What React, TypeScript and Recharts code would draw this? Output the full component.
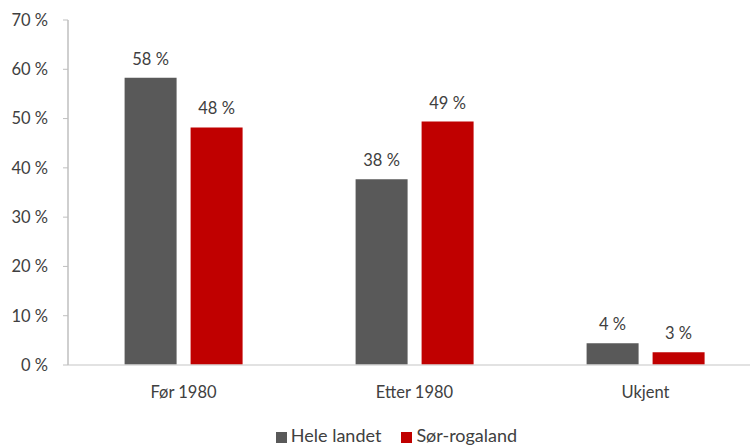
import { Bar, BarChart, XAxis, YAxis, Legend, LabelList } from "recharts"

const categories = ["Før 1980", "Etter 1980", "Ukjent"]
const heleLandet = [58.3, 37.7, 4.4]
const sorRogaland = [48.2, 49.4, 2.6]
const yTicks = [0, 10, 20, 30, 40, 50, 60, 70]

const data = categories.map((name, i) => ({
  name,
  hele: heleLandet[i],
  sor: sorRogaland[i],
}))

const FONT = "Lato, 'Open Sans', sans-serif"
const TEXT = "#404040"

const pct = (v: number) => `${Math.round(v)} %`

export default function App() {
  return (
    <div
      style={{
        position: "fixed",
        left: 0,
        top: 0,
        width: 750,
        height: 446,
        overflow: "hidden",
        background: "#fff",
        fontFamily: FONT,
      }}
    >
      <BarChart
        width={770}
        height={446}
        data={data}
        margin={{ top: 20, right: 9, left: 8, bottom: 23 }}
        barCategoryGap="24.5%"
        barGap={14}
      >
        <XAxis
          dataKey="name"
          tickLine={false}
          axisLine={{ stroke: "#d9d9d9", strokeWidth: 1.5 }}
          tick={{ fill: TEXT, fontSize: 16.5, fontFamily: FONT }}
          tickMargin={15}
          height={36}
        />
        <YAxis
          domain={[0, 70]}
          ticks={yTicks}
          interval={0}
          width={60}
          tickFormatter={(v) => `${v} %`}
          tick={{ fill: TEXT, fontSize: 16.5, fontFamily: FONT }}
          tickSize={5}
          tickMargin={15}
          tickLine={{ stroke: "#bfbfbf" }}
          axisLine={{ stroke: "#bfbfbf", strokeWidth: 1.5 }}
        />
        <Legend
          verticalAlign="bottom"
          iconType="square"
          iconSize={11}
          wrapperStyle={{ fontSize: 18, fontFamily: FONT, bottom: 0, paddingLeft: 22 }}
          formatter={(value) => (
            <span style={{ color: TEXT, marginRight: 10 }}>{value}</span>
          )}
        />
        <Bar dataKey="hele" name="Hele landet" fill="#595959" isAnimationActive={false}>
          <LabelList
            dataKey="hele"
            position="top"
            offset={13}
            formatter={pct}
            style={{ fill: TEXT, fontSize: 16.5, fontFamily: FONT }}
          />
        </Bar>
        <Bar dataKey="sor" name="Sør-rogaland" fill="#c00000" isAnimationActive={false}>
          <LabelList
            dataKey="sor"
            position="top"
            offset={13}
            formatter={pct}
            style={{ fill: TEXT, fontSize: 16.5, fontFamily: FONT }}
          />
        </Bar>
      </BarChart>
    </div>
  )
}
